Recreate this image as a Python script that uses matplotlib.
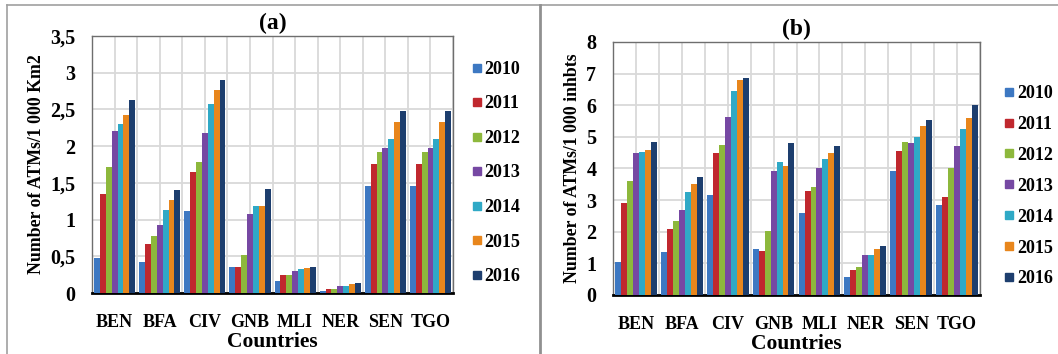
#!/usr/bin/env python3
"""ATM density per country, 2010-2016: (a) per 1 000 km2, (b) per 1 000 inhabitants."""
import numpy as np
import matplotlib
matplotlib.use("Agg")
import matplotlib.pyplot as plt
from matplotlib.lines import Line2D
from matplotlib.ticker import FuncFormatter, MultipleLocator

countries = ["BEN", "BFA", "CIV", "GNB", "MLI", "NER", "SEN", "TGO"]
years = ["2010", "2011", "2012", "2013", "2014", "2015", "2016"]

# (a) ATMs / 1 000 km2, one list per year (order of countries)
per_km2 = {
    "2010": [0.47, 0.42, 1.12, 0.36, 0.17, 0.03, 1.46, 1.46],
    "2011": [1.35, 0.67, 1.65, 0.36, 0.24, 0.05, 1.76, 1.76],
    "2012": [1.72, 0.78, 1.79, 0.52, 0.25, 0.06, 1.92, 1.92],
    "2013": [2.20, 0.92, 2.18, 1.07, 0.30, 0.09, 1.97, 1.97],
    "2014": [2.30, 1.13, 2.58, 1.18, 0.33, 0.10, 2.10, 2.10],
    "2015": [2.43, 1.27, 2.77, 1.18, 0.34, 0.12, 2.33, 2.33],
    "2016": [2.63, 1.40, 2.90, 1.42, 0.36, 0.14, 2.48, 2.48],
}
# (b) ATMs / 1 000 inhabitants
per_inh = {
    "2010": [1.05, 1.35, 3.15, 1.45, 2.60, 0.58, 3.92, 2.85],
    "2011": [2.90, 2.10, 4.50, 1.40, 3.30, 0.80, 4.55, 3.10],
    "2012": [3.62, 2.35, 4.75, 2.02, 3.42, 0.90, 4.85, 4.02],
    "2013": [4.50, 2.70, 5.62, 3.92, 4.02, 1.25, 4.82, 4.70],
    "2014": [4.52, 3.25, 6.45, 4.20, 4.30, 1.25, 4.98, 5.25],
    "2015": [4.60, 3.50, 6.80, 4.08, 4.48, 1.45, 5.35, 5.60],
    "2016": [4.85, 3.72, 6.85, 4.82, 4.70, 1.55, 5.52, 6.02],
}

colors = ["#3d78c2", "#c0282e", "#8db83c", "#7648a3", "#2fa9c6", "#e8861c", "#1d3e6e"]

FONT = "Liberation Serif"
plt.rcParams["font.family"] = [FONT, "DejaVu Serif"]
plt.rcParams["font.weight"] = "bold"


def comma(v, _pos):
    return f"{v:g}".replace(".", ",")


def draw(ax, data, ymax, ystep, ylabel, title, leg_anchor, leg_space):
    x = np.arange(len(countries))
    w = 0.13
    for i, yr in enumerate(years):
        ax.bar(x + (i - 3) * w, data[yr], width=w, color=colors[i],
               edgecolor="none", zorder=3)
    ax.set_xlim(-0.5, len(countries) - 0.5)
    ax.set_ylim(0, ymax)
    ax.yaxis.set_major_locator(MultipleLocator(ystep))
    ax.yaxis.set_major_formatter(FuncFormatter(comma))
    ax.set_xticks(x)
    ax.set_xticklabels(countries)
    ax.xaxis.set_minor_locator(MultipleLocator(0.5))
    ax.grid(True, which="major", axis="y", color="#d9d9d9", lw=1.3, zorder=0)
    ax.grid(True, which="both", axis="x", color="#d9d9d9", lw=1.3, zorder=0)
    ax.tick_params(axis="both", which="both", length=0)
    ax.tick_params(axis="y", pad=12, labelsize=14.5)
    ax.tick_params(axis="x", pad=15, labelsize=13)
    for s in ("top", "right", "left"):
        ax.spines[s].set_color("#6e6e6e")
        ax.spines[s].set_linewidth(1.0)
    ax.spines["bottom"].set_color("black")
    ax.spines["bottom"].set_linewidth(2.0)
    ax.set_xlabel("Countries", fontsize=15.5, fontweight="bold", labelpad=1)
    ax.set_ylabel(ylabel, fontsize=12.8, fontweight="bold", labelpad=4)
    ax.set_title(title, fontsize=17, fontweight="bold", pad=5)

    handles = [Line2D([], [], marker="s", ls="none", markersize=6,
                      markerfacecolor=c, markeredgecolor=c) for c in colors]
    ax.legend(handles, years, loc="center left", bbox_to_anchor=leg_anchor,
              frameon=False, fontsize=13, handlelength=0.6, handletextpad=0.15,
              labelspacing=leg_space, borderaxespad=0)


fig = plt.figure(figsize=(10.58, 3.54), dpi=100)
ax_a = fig.add_axes([0.0870, 0.1723, 0.3412, 0.7260])
ax_b = fig.add_axes([0.5794, 0.1667, 0.3469, 0.7147])

draw(ax_a, per_km2, 3.5, 0.5, "Number of ATMs/1 000 Km2", "(a)", (1.03, 0.467), 0.97)
draw(ax_b, per_inh, 8, 1, "Number of ATMs/1 000 inhbts", "(b)", (1.045, 0.43), 0.77)

# outer frame and panel divider
fig.add_artist(Line2D([0.007, 1.0], [0.986, 0.986], color="#a0a0a0", lw=1.2))
fig.add_artist(Line2D([0.007, 0.007], [0.0, 0.986], color="#a0a0a0", lw=1.2))
fig.add_artist(Line2D([0.5105, 0.5105], [0.0, 0.986], color="#909090", lw=2.0))

fig.savefig("out.png", dpi=100)
